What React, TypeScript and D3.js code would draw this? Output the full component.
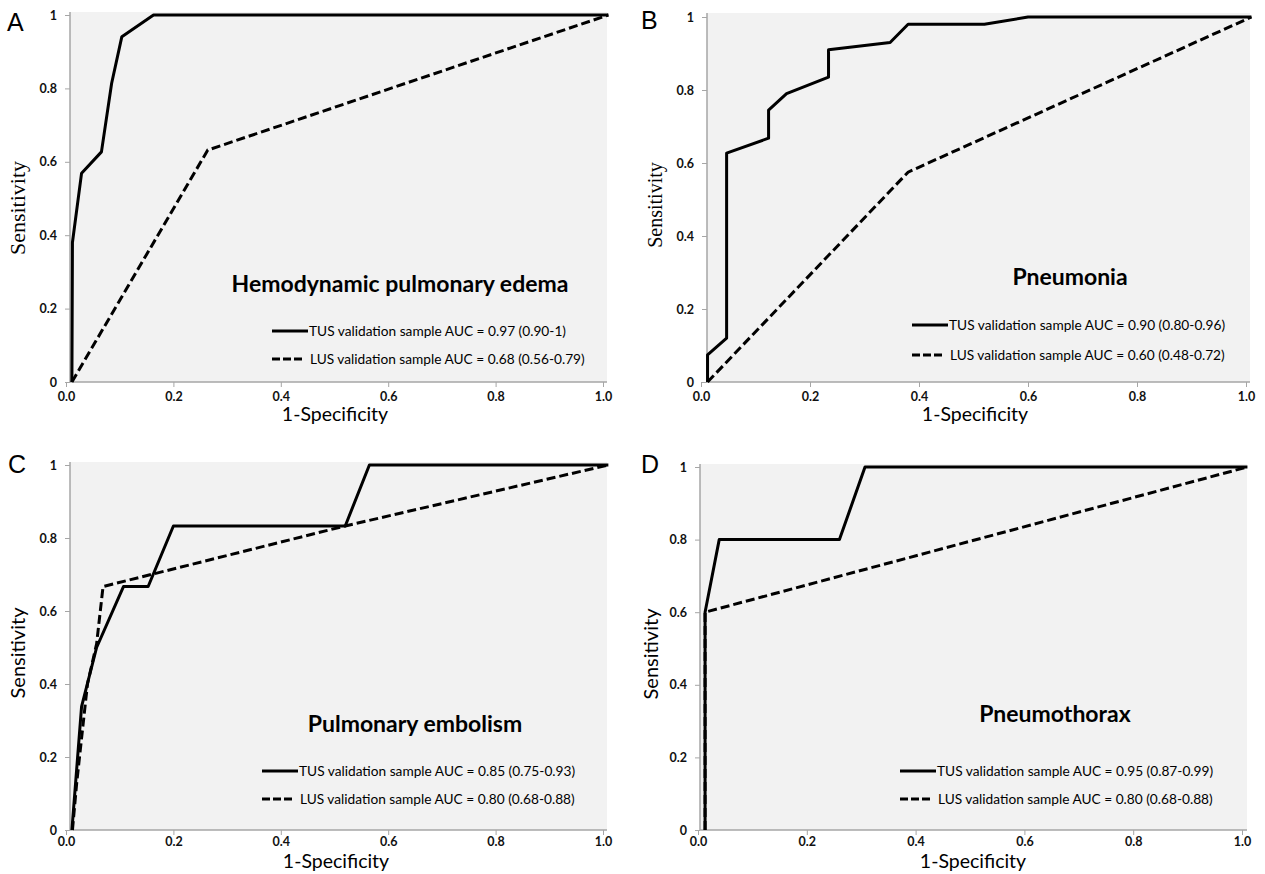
import React, { useEffect, useRef } from 'react'
import * as d3 from 'd3'

// panel letters and disease titles
const panelLetters = ['A', 'B', 'C', 'D']
const diseaseTitles = ['Hemodynamic pulmonary edema', 'Pneumonia', 'Pulmonary embolism', 'Pneumothorax']

// legend labels
const tusLabels = [
  'TUS validation sample AUC = 0.97 (0.90-1)',
  'TUS validation sample AUC = 0.90 (0.80-0.96)',
  'TUS validation sample AUC = 0.85 (0.75-0.93)',
  'TUS validation sample AUC = 0.95 (0.87-0.99)',
]
const lusLabels = [
  'LUS validation sample AUC = 0.68 (0.56-0.79)',
  'LUS validation sample AUC = 0.60 (0.48-0.72)',
  'LUS validation sample AUC = 0.80 (0.68-0.88)',
  'LUS validation sample AUC = 0.80 (0.68-0.88)',
]

// ticks
const xTicks = [0, 0.2, 0.4, 0.6, 0.8, 1.0]
const yTicks = [0, 0.2, 0.4, 0.6, 0.8, 1]

// ROC curves: [1-specificity, sensitivity]
const tusA = [[0.011, 0], [0.012, 0.38], [0.029, 0.569], [0.066, 0.627], [0.085, 0.814], [0.104, 0.941], [0.163, 1], [1.01, 1]]
const lusA = [[0.011, 0], [0.264, 0.632], [1.01, 1]]

const tusB = [[0.012, 0], [0.012, 0.074], [0.047, 0.12], [0.047, 0.627], [0.124, 0.668], [0.124, 0.745], [0.157, 0.79],
  [0.234, 0.835], [0.234, 0.91], [0.347, 0.93], [0.38, 0.98], [0.52, 0.98], [0.6, 1], [1.01, 1]]
const lusB = [[0.012, 0], [0.38, 0.575], [1.01, 1]]

const tusC = [[0.011, 0], [0.029, 0.338], [0.057, 0.5], [0.107, 0.667], [0.153, 0.667], [0.2, 0.833], [0.52, 0.833], [0.565, 1], [1.01, 1]]
const lusC = [[0.012, 0], [0.02, 0.13], [0.04, 0.4], [0.057, 0.51], [0.069, 0.667], [0.52, 0.833], [1.01, 1]]

const tusD = [[0.013, 0], [0.013, 0.6], [0.039, 0.8], [0.26, 0.8], [0.307, 1], [1.01, 1]]
const lusD = [[0.013, 0], [0.013, 0.6], [1.01, 1]]

const tusCurves = [tusA, tusB, tusC, tusD]
const lusCurves = [lusA, lusB, lusC, lusD]

// pixel layout of each panel
const layouts = [
  { left: 70, right: 607, top: 12, bottom: 382, x0: 66, x1: 603, y1: 15, tickY: 10, letter: [7, 31], ylab: [17, 208, 22, 'serif'],
    title: [400, 292], leg: [272, 331, 359], xlab: [335, 421] },
  { left: 707, right: 1250, top: 13, bottom: 382, x0: 701, x1: 1246, y1: 17, tickY: 10, letter: [641, 29], ylab: [655, 205, 20, 'serif'],
    title: [1070, 285], leg: [912, 325, 355], xlab: [975, 421] },
  { left: 70, right: 607, top: 462, bottom: 830, x0: 66, x1: 603, y1: 465, tickY: 7, letter: [8, 473], ylab: [17, 653, 20, 'sans'],
    title: [415, 732], leg: [262, 771, 799], xlab: [336, 868] },
  { left: 700, right: 1247, top: 464, bottom: 830, x0: 698, x1: 1242, y1: 467, tickY: 7, letter: [641, 473], ylab: [650, 654, 20, 'sans'],
    title: [1055, 722], leg: [900, 771, 799], xlab: [973, 868] },
]

const SANS = 'Lato, "Open Sans", sans-serif'
const SERIF = '"Liberation Serif", "DejaVu Serif", serif'

class Chart extends React.Component {
  canvas: any
  constructor(props: any) {
    super(props)
    this.canvas = React.createRef()
  }
  componentDidMount() {
    this.draw()
  }
  draw() {
    const svg = d3.select(this.canvas.current)
    svg.selectAll('*').remove()

    layouts.forEach((lay, i) => {
      const g = svg.append('g')
      const x = d3.scaleLinear().domain([0, 1]).range([lay.x0, lay.x1])
      const y = d3.scaleLinear().domain([0, 1]).range([lay.bottom, lay.y1])

      g.append('rect')
        .attr('x', lay.left).attr('y', lay.top)
        .attr('width', lay.right - lay.left).attr('height', lay.bottom - lay.top)
        .attr('fill', '#f2f2f2')

      // y axis
      const yAxis = d3.axisLeft(y).tickValues(yTicks).tickSize(5).tickSizeOuter(0)
        .tickFormat((d: any) => (d === 0 ? '0' : d === 1 ? '1' : d3.format('.1f')(d)))
      const ya = g.append('g').attr('transform', `translate(${lay.left},0)`).call(yAxis)
      ya.select('.domain').remove()
      ya.selectAll('line').attr('stroke', '#a6a6a6')
      ya.selectAll('text').attr('x', -13).attr('font-family', SANS).attr('font-weight', 'bold')
        .attr('font-size', 12.5).attr('fill', '#111')

      // x axis
      const xAxis = d3.axisBottom(x).tickValues(xTicks).tickSize(5).tickSizeOuter(0)
        .tickFormat(d3.format('.1f') as any)
      const xa = g.append('g').attr('transform', `translate(0,${lay.bottom})`).call(xAxis)
      xa.select('.domain').remove()
      xa.selectAll('line').attr('stroke', '#a6a6a6')
      xa.selectAll('text').attr('y', lay.tickY).attr('font-family', SANS).attr('font-weight', 'bold')
        .attr('font-size', 12.5).attr('fill', '#111')

      g.append('line').attr('x1', lay.left).attr('x2', lay.left).attr('y1', lay.top).attr('y2', lay.bottom)
        .attr('stroke', '#a6a6a6').attr('stroke-width', 1.5)
      g.append('line').attr('x1', lay.left).attr('x2', lay.right).attr('y1', lay.bottom).attr('y2', lay.bottom)
        .attr('stroke', '#a6a6a6').attr('stroke-width', 1.5)

      const line = d3.line().x((d: any) => x(d[0])).y((d: any) => y(d[1]))

      g.append('path').attr('d', line(lusCurves[i] as any)).attr('fill', 'none')
        .attr('stroke', '#000').attr('stroke-width', 3).attr('stroke-dasharray', '9,4')
      g.append('path').attr('d', line(tusCurves[i] as any)).attr('fill', 'none')
        .attr('stroke', '#000').attr('stroke-width', 3).attr('stroke-linejoin', 'round')

      // labels
      g.append('text').attr('x', lay.letter[0]).attr('y', lay.letter[1])
        .attr('font-family', '"Liberation Sans", Arial, sans-serif').attr('font-size', 25)
        .text(panelLetters[i])

      const yl = lay.ylab as any[]
      g.append('text').attr('transform', `translate(${yl[0]},${yl[1]}) rotate(-90)`)
        .attr('text-anchor', 'middle').attr('dominant-baseline', 'central')
        .attr('font-family', yl[3] === 'serif' ? SERIF : SANS).attr('font-size', yl[2])
        .text('Sensitivity')

      g.append('text').attr('x', lay.xlab[0]).attr('y', lay.xlab[1]).attr('text-anchor', 'middle')
        .attr('font-family', SANS).attr('font-size', 19.5).text('1-Specificity')

      g.append('text').attr('x', lay.title[0]).attr('y', lay.title[1]).attr('text-anchor', 'middle')
        .attr('font-family', SANS).attr('font-weight', 'bold').attr('font-size', 23)
        .text(diseaseTitles[i])

      // legend
      const [lx, ly1, ly2] = lay.leg
      g.append('line').attr('x1', lx).attr('x2', lx + 36).attr('y1', ly1).attr('y2', ly1)
        .attr('stroke', '#000').attr('stroke-width', 3)
      g.append('text').attr('x', lx + 37).attr('y', ly1 + 5).attr('font-family', SANS).attr('font-size', 13.7)
        .text(tusLabels[i])
      g.append('line').attr('x1', lx).attr('x2', lx + 30).attr('y1', ly2).attr('y2', ly2)
        .attr('stroke', '#000').attr('stroke-width', 3).attr('stroke-dasharray', '8,3')
      g.append('text').attr('x', lx + 38).attr('y', ly2 + 5).attr('font-family', SANS).attr('font-size', 13.7)
        .text(lusLabels[i])
    })
  }
  render() {
    return (
      <svg ref={this.canvas} width={1265} height={874}
        style={{ position: 'absolute', left: 0, top: 0, background: '#fff' }} />
    )
  }
}

export default function App() {
  return <Chart />
}
